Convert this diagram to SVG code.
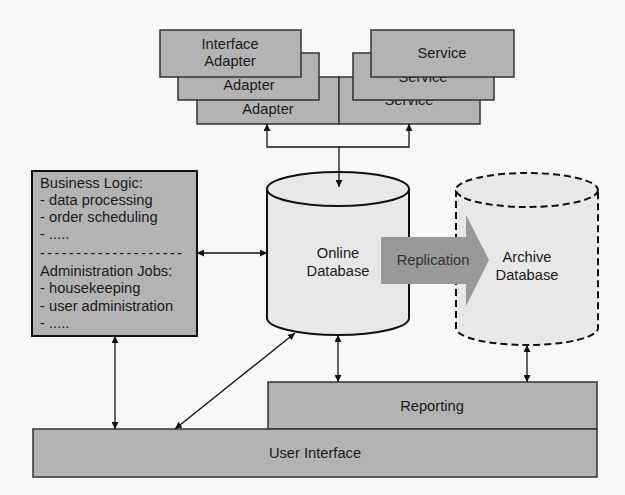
<svg xmlns="http://www.w3.org/2000/svg" width="625" height="495" viewBox="0 0 625 495">
<defs>
<style>
text{font-family:"Liberation Sans",Arial,sans-serif;font-size:14.7px;fill:#1a1a1a}
.c{text-anchor:middle}
.box{fill:#b3b3b3;stroke:#333;stroke-width:1.5}
.db{fill:#e8e8e8;stroke:#111;stroke-width:2}
.dbd{fill:#e8e8e8;stroke:#111;stroke-width:2;stroke-dasharray:7 4}
.ln{fill:none;stroke:#111;stroke-width:1.3}
</style>
<marker id="ah" viewBox="0 0 10 10" refX="10" refY="5" markerWidth="7" markerHeight="7" markerUnits="userSpaceOnUse" orient="auto-start-reverse">
<path d="M0,0 L10,5 L0,10 z" fill="#111"/>
</marker>
</defs>
<rect width="625" height="495" fill="#f8f8f8"/>

<g id="adapter3"><rect class="box" x="197" y="77" width="142" height="47"/><text class="c" x="268" y="114">Adapter</text></g>
<g id="service3"><rect class="box" x="339" y="77" width="141" height="47"/><text class="c" x="409" y="105">Service</text></g>
<g id="adapter2"><rect class="box" x="178" y="53" width="141" height="47"/><text class="c" x="249" y="90">Adapter</text></g>
<g id="service2"><rect class="box" x="353" y="53" width="141" height="47"/><text class="c" x="423" y="82">Service</text></g>
<g id="interface-adapter"><rect class="box" x="160" y="30" width="141" height="47"/><text class="c" x="230" y="49">Interface</text><text class="c" x="230" y="66">Adapter</text></g>
<g id="service1"><rect class="box" x="371" y="30" width="143" height="47"/><text class="c" x="442" y="58">Service</text></g>

<g id="business-logic">
<rect x="32" y="171" width="165" height="165" fill="#b3b3b3" stroke="#111" stroke-width="2"/>
<text x="40" y="188">Business Logic:</text>
<text x="40" y="205">- data processing</text>
<text x="40" y="222">- order scheduling</text>
<text x="40" y="239">- .....</text>
<text x="40" y="258" textLength="142" lengthAdjust="spacing">--------------------</text>
<text x="40" y="276">Administration Jobs:</text>
<text x="40" y="293">- housekeeping</text>
<text x="40" y="311">- user administration</text>
<text x="40" y="328">- .....</text>
</g>

<g id="online-db">
<path class="db" d="M267,189 L267,318 A71,17 0 0 0 409,318 L409,189 Z"/>
<ellipse class="db" cx="338" cy="189" rx="71" ry="17"/>
<text class="c" x="338" y="258">Online</text>
<text class="c" x="338" y="276">Database</text>
</g>

<g id="archive-db">
<path class="dbd" d="M456,190 L456,328 A71,17 0 0 0 598,328 L598,190"/>
<ellipse class="dbd" cx="527" cy="190" rx="71" ry="17"/>
<text class="c" x="527" y="262">Archive</text>
<text class="c" x="527" y="280">Database</text>
</g>

<g id="replication">
<polygon points="381,237 466,237 466,215 489,260 466,306 466,284 381,284" fill="#999"/>
<text class="c" x="433" y="265" style="fill:#333">Replication</text>
</g>

<g id="reporting"><rect class="box" x="268" y="382" width="329" height="47"/><text class="c" x="432" y="411">Reporting</text></g>
<g id="user-interface"><rect class="box" x="33" y="429" width="564" height="48"/><text class="c" x="315" y="458">User Interface</text></g>

<g id="connectors">
<path class="ln" d="M267,124 L267,147 L409,147 L409,124" marker-start="url(#ah)" marker-end="url(#ah)"/>
<line class="ln" x1="339" y1="147" x2="339" y2="187" marker-end="url(#ah)"/>
<line class="ln" x1="197" y1="253" x2="267" y2="253" marker-start="url(#ah)" marker-end="url(#ah)"/>
<line class="ln" x1="115" y1="336" x2="115" y2="429" marker-start="url(#ah)" marker-end="url(#ah)"/>
<line class="ln" x1="175" y1="429" x2="295" y2="333" marker-start="url(#ah)" marker-end="url(#ah)"/>
<line class="ln" x1="338" y1="335" x2="338" y2="382" marker-start="url(#ah)" marker-end="url(#ah)"/>
<line class="ln" x1="527" y1="345" x2="527" y2="382" marker-start="url(#ah)" marker-end="url(#ah)"/>
</g>
</svg>
